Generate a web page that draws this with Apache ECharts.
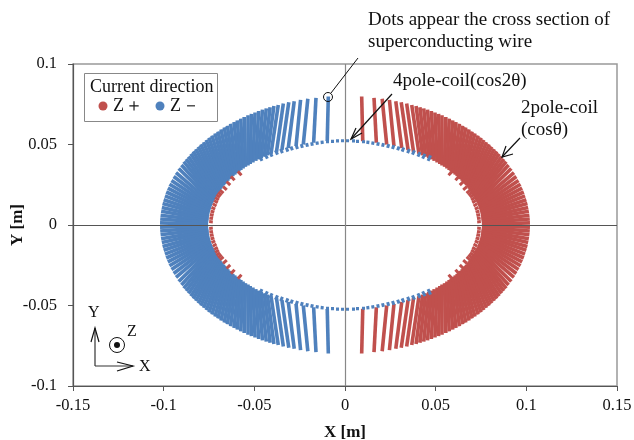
<!DOCTYPE html>
<html><head><meta charset="utf-8">
<style>html,body{margin:0;padding:0;background:#fff}#c{width:634px;height:440px}</style>
<script src="https://cdn.jsdelivr.net/npm/echarts@6/dist/echarts.min.js"></script>
</head><body><div id="c"></div>
<script>
// 2-pole coil turns, first quadrant, from the pole outward to the midplane [m]
const outerX=[.0092,.016,.0205,.0245,.028,.031,.034,.0368,.0392,.0413,.0434,.0455,.0476,.0496,.0516,.0536,.0556,.0575,.0594,.0612,.0631,.0649,.0666,.0684,.0701,.0717,.0734,.075,.0765,.078,.0795,.0809,.0823,.0837,.085,.0863,.0876,.0889,.0902,.0917,.0932,.0945,.0957,.0968,.0977,.0986,.0993,.1,.1006,.101,.1014,.1017,.1019,.102];
const outerY=[.0798,.079,.0784,.0777,.0769,.0762,.0754,.0746,.0739,.0731,.0724,.0716,.0708,.0699,.069,.0681,.0671,.0661,.065,.064,.0629,.0617,.0606,.0594,.0581,.0569,.0556,.0543,.0529,.0515,.0501,.0487,.0472,.0458,.0443,.0426,.041,.0393,.0373,.0351,.0325,.0301,.0277,.0253,.0229,.0205,.0181,.0157,.0133,.0109,.0085,.0061,.0037,.0013];
const innerX=[.0098,.0173,.023,.027,.0313,.0348,.0378,.0408,.0428,.0445,.0462,.0477,.0492,.0508,.0523,.0536,.0549,.0562,.0574,.0585,.0597,.0607,.0618,.0627,.0636,.0645,.0653,.0661,.0668,.0676,.0683,.0689,.0694,.07,.0705,.0711,.0716,.072,.0723,.0727,.0731,.0735,.0738,.0741,.0743,.0746,.0748,.075,.0751,.0752,.0753,.0754,.0755,.0755];
const innerY=[.0521,.0511,.05,.049,.0478,.0466,.0454,.0442,.0433,.0424,.0415,.0407,.0398,.0388,.0379,.037,.0361,.0351,.0341,.0332,.0322,.0312,.0302,.0293,.0283,.0273,.0263,.0254,.0244,.0234,.0224,.0215,.0206,.0197,.0187,.0177,.0167,.0159,.0151,.0141,.0131,.0121,.0112,.0102,.0092,.0083,.0073,.0063,.0054,.0044,.0034,.0025,.0015,.0005];
// 4-pole coil, first quadrant: blue turns near the pole
const ringBlueX0=[.0015,.0043,.007,.0098,.0125,.0152,.018,.0207,.0235,.0262,.029,.0315,.0345,.0372,.0402,.0428,.0458];
const ringBlueY0=[.0514,.0513,.051,.0507,.0503,.0498,.0492,.0486,.0479,.0472,.0464,.0456,.0446,.0437,.0424,.0412,.0398];
const ringBlueX1=[.0015,.0043,.007,.0099,.0127,.0155,.0184,.0212,.0241,.0269,.0298,.0324,.0355,.0383,.0414,.0441,.0472];
const ringBlueY1=[.0532,.0532,.053,.0527,.0524,.0519,.0514,.0509,.0502,.0496,.0488,.0481,.0472,.0464,.0453,.0442,.0432];
// 4-pole coil, first quadrant: red turns near the midplane
const ringRedX0=[.0729,.0728,.0725,.0721,.0716,.0709,.0702,.0696,.0689,.068,.067,.0652,.0633,.0609,.0571];
const ringRedY0=[.0019,.004,.0059,.0079,.0099,.0118,.0138,.0155,.0172,.0185,.0198,.0218,.0248,.0278,.0309];
const ringRedX1=[.0749,.0748,.0745,.0741,.0736,.0729,.0722,.0716,.0709,.07,.069,.0672,.0653,.0629,.0591];
const ringRedY1=[.0021,.0044,.0065,.0087,.0109,.0132,.0152,.0171,.0188,.0203,.0216,.0238,.027,.0302,.0333];
// axes
const xRange=[-0.15,0.15], yRange=[-0.1,0.1], tickStep=0.05;
const RED='#C0504D', BLUE='#4F81BD';
const FONT='"Liberation Serif","Times New Roman",serif';

function segs(x0,y0,x1,y1,sx,sy){
  return x0.map((_,i)=>({coords:[[sx*x0[i],sy*y0[i]],[sx*x1[i],sy*y1[i]]]}));
}
function quad(x0,y0,x1,y1,sxs){
  let r=[];
  sxs.forEach(sx=>[1,-1].forEach(sy=>{r=r.concat(segs(x0,y0,x1,y1,sx,sy));}));
  return r;
}
function linesSeries(name,data,color,width,z,cap){
  return {name,type:'lines',coordinateSystem:'cartesian2d',polyline:false,z,silent:true,animation:false,
    lineStyle:{color,width,opacity:1,cap:cap||'round',curveness:0},data};
}
const T=(x,y,text,extra)=>({type:'text',x,y,z:50,style:Object.assign({text,x:0,y:0,font:'19px '+FONT,fill:'#111',textVerticalAlign:'middle'},extra||{})});
const L=(x1,y1,x2,y2,extra)=>({type:'line',z:50,shape:{x1,y1,x2,y2},style:Object.assign({stroke:'#111',lineWidth:1},extra||{})});
const V=(pts,extra)=>({type:'polyline',z:50,shape:{points:pts},style:Object.assign({stroke:'#111',lineWidth:1.2,fill:null},extra||{})});

const chart=echarts.init(document.getElementById('c'),null,{renderer:'canvas'});
chart.setOption({
  animation:false,
  grid:{left:73,right:17,top:64,bottom:54,outerBoundsMode:'none',containLabel:false,show:true,borderColor:'#999',borderWidth:1.5,backgroundColor:'#fff'},
  xAxis:{type:'value',min:xRange[0],max:xRange[1],interval:tickStep,splitLine:{show:false},
    axisLine:{onZero:false,lineStyle:{color:'#555',width:1.2}},axisTick:{length:5,lineStyle:{color:'#555'}},
    axisLabel:{fontFamily:FONT,fontSize:16.5,color:'#111',margin:11,hideOverlap:false,showMinLabel:true,showMaxLabel:true},
    name:'X [m]',nameLocation:'middle',nameMoveOverlap:false,nameGap:38,nameTextStyle:{fontFamily:FONT,fontSize:17,fontWeight:'bold',color:'#111'}},
  yAxis:{type:'value',min:yRange[0],max:yRange[1],interval:tickStep,splitLine:{show:false},
    axisLine:{onZero:false,lineStyle:{color:'#555',width:1.2}},axisTick:{length:5,lineStyle:{color:'#555'}},
    axisLabel:{fontFamily:FONT,fontSize:16.5,color:'#111',margin:16,showMinLabel:true,showMaxLabel:true},
    name:'Y [m]',nameLocation:'middle',nameMoveOverlap:false,nameGap:47,nameTextStyle:{fontFamily:FONT,fontSize:17,fontWeight:'bold',color:'#111'}},
  series:[
    linesSeries('Z+ 2pole',quad(innerX,innerY,outerX,outerY,[1]),RED,3.6,2,'butt'),
    linesSeries('Z- 2pole',quad(innerX,innerY,outerX,outerY,[-1]),BLUE,3.6,2,'butt'),
    linesSeries('Z- 4pole',quad(ringBlueX0,ringBlueY0,ringBlueX1,ringBlueY1,[1,-1]),BLUE,3,3,'butt'),
    linesSeries('Z+ 4pole',quad(ringRedX0,ringRedY0,ringRedX1,ringRedY1,[1,-1]),RED,3,3,'butt'),
    linesSeries('x axis',[{coords:[[xRange[0],0],[xRange[1],0]]}],'#555',1,4,'butt'),
    linesSeries('y axis',[{coords:[[0,yRange[0]],[0,yRange[1]]]}],'#888',1.2,4,'butt')
  ],
  graphic:[
    // legend
    {type:'rect',z:49,shape:{x:84.5,y:73.5,width:133,height:48},style:{fill:'#fff',stroke:'#888',lineWidth:1}},
    T(90,87,'Current direction',{font:'18px '+FONT}),
    {type:'circle',z:50,shape:{cx:103,cy:106,r:4.5},style:{fill:RED}},
    T(113,106,'Z',{font:'18px '+FONT}),
    T(125,106,'＋',{font:'18px '+FONT}),
    {type:'circle',z:50,shape:{cx:160,cy:106,r:4.5},style:{fill:BLUE}},
    T(170,106,'Z',{font:'18px '+FONT}),
    T(182,106,'－',{font:'18px '+FONT}),
    // dot callout
    T(368,20,'Dots appear the cross section of'),
    T(368,42,'superconducting wire'),
    L(358,58,331,93),
    {type:'circle',z:50,shape:{cx:328,cy:97,r:4.5},style:{fill:null,stroke:'#111',lineWidth:1}},
    // 4-pole callout
    T(393,81,'4pole-coil(cos2θ)'),
    L(392,94,351,139,{lineWidth:1.2}),
    V([[362,133],[351,139],[356,128]]),
    // 2-pole callout
    T(521,108,'2pole-coil'),
    T(521,130,'(cosθ)'),
    L(520,138,502,157,{lineWidth:1.2}),
    V([[513,154],[502,157],[506,146]]),
    // coordinate symbol
    T(88,313,'Y',{font:'16px '+FONT}),
    L(95,366,95,328,{stroke:'#333',lineWidth:1.2}),
    V([[91,342],[95,328],[99,342]]),
    L(95,366,133,366,{stroke:'#333',lineWidth:1.2}),
    V([[117,362],[133,366],[117,371]]),
    T(139,367,'X',{font:'16px '+FONT}),
    {type:'circle',z:50,shape:{cx:117,cy:345,r:7.5},style:{fill:null,stroke:'#111',lineWidth:1}},
    {type:'circle',z:50,shape:{cx:117,cy:345,r:3},style:{fill:'#111'}},
    T(127,332,'Z',{font:'16px '+FONT})
  ]
});
</script></body></html>
